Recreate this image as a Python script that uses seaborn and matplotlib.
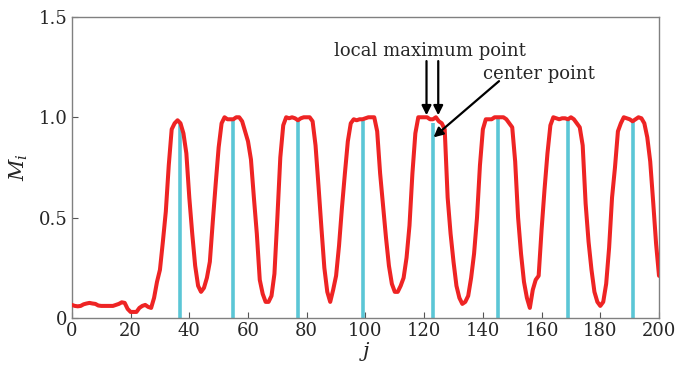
import numpy as np
import pandas as pd
import seaborn as sns
import matplotlib.pyplot as plt

# ---------------------------------------------------------------------------
# Data
# ---------------------------------------------------------------------------

j_index = list(range(0, 201))

m_values = [
    0.065, 0.06, 0.058, 0.06, 0.068, 0.072, 0.075, 0.072, 0.07, 0.062,   # 0-9
    0.06, 0.06, 0.06, 0.06, 0.06, 0.065, 0.07, 0.078, 0.075, 0.045,      # 10-19
    0.03, 0.03, 0.03, 0.05, 0.06, 0.065, 0.055, 0.05, 0.10, 0.18,        # 20-29
    0.24, 0.38, 0.53, 0.76, 0.94, 0.97, 0.985, 0.97, 0.92, 0.82,         # 30-39
    0.60, 0.42, 0.26, 0.16, 0.13, 0.15, 0.20, 0.28, 0.48, 0.67,          # 40-49
    0.85, 0.97, 1.0, 0.99, 0.99, 0.99, 1.0, 1.0, 0.98, 0.93,             # 50-59
    0.88, 0.79, 0.60, 0.42, 0.19, 0.12, 0.08, 0.08, 0.11, 0.22,          # 60-69
    0.50, 0.80, 0.96, 1.0, 0.995, 1.0, 0.995, 0.985, 0.995, 1.0,         # 70-79
    1.0, 1.0, 0.98, 0.86, 0.66, 0.45, 0.25, 0.13, 0.08, 0.14,            # 80-89
    0.21, 0.36, 0.55, 0.72, 0.88, 0.97, 0.99, 0.985, 0.99, 0.99,         # 90-99
    0.995, 1.0, 1.0, 1.0, 0.93, 0.72, 0.56, 0.40, 0.26, 0.17,           # 100-109
    0.13, 0.13, 0.16, 0.20, 0.30, 0.46, 0.72, 0.92, 1.0, 1.0,            # 110-119
    1.0, 1.0, 0.99, 0.99, 1.0, 0.98, 0.97, 0.94, 0.60, 0.42,             # 120-129
    0.28, 0.16, 0.10, 0.07, 0.08, 0.11, 0.20, 0.32, 0.50, 0.76,          # 130-139
    0.94, 0.99, 0.99, 0.99, 1.0, 1.0, 1.0, 1.0, 0.99, 0.97,              # 140-149
    0.95, 0.78, 0.50, 0.32, 0.18, 0.10, 0.05, 0.14, 0.19, 0.21,          # 150-159
    0.44, 0.64, 0.82, 0.96, 1.0, 0.995, 0.99, 0.995, 0.995, 0.99,        # 160-169
    1.0, 0.99, 0.97, 0.95, 0.86, 0.57, 0.38, 0.24, 0.13, 0.08,           # 170-179
    0.06, 0.08, 0.17, 0.35, 0.60, 0.75, 0.93, 0.97, 1.0, 0.995,          # 180-189
    0.99, 0.98, 0.99, 1.0, 0.995, 0.97, 0.90, 0.78, 0.58, 0.37,          # 190-199
    0.21,                                                                # 200
]

center_j = [37, 55, 77, 99, 123, 145, 169, 191]
center_m = [0.97, 0.99, 0.985, 0.99, 0.97, 1.0, 0.99, 0.98]

x_ticks = [0, 20, 40, 60, 80, 100, 120, 140, 160, 180, 200]
y_ticks = [0, 0.5, 1.0, 1.5]
y_tick_labels = ['0', '0.5', '1.0', '1.5']

# ---------------------------------------------------------------------------
# Plot
# ---------------------------------------------------------------------------

sns.set_style('white')
plt.rcParams['font.family'] = ['DejaVu Serif']
plt.rcParams['mathtext.fontset'] = 'dejavuserif'

df = pd.DataFrame({'j': j_index, 'M': m_values})

fig = plt.figure(figsize=(6.78, 3.68), dpi=100)
ax = fig.add_axes([0.106, 0.136, 0.866, 0.818])

ax.vlines(center_j, 0, center_m, color='#5bc6d6', linewidth=2.6, zorder=2)
sns.lineplot(data=df, x='j', y='M', color='#ee2424', linewidth=2.9, ax=ax, zorder=3)

ax.set_xlim(0, 200)
ax.set_ylim(0, 1.5)
ax.set_xticks(x_ticks)
ax.set_yticks(y_ticks)
ax.set_yticklabels(y_tick_labels)
ax.tick_params(bottom=True, left=True, direction='in', length=4, width=0.8,
               color='#555555', labelsize=13, pad=3)

for s in ax.spines.values():
    s.set_color('#808080')
    s.set_linewidth(1.0)

ax.set_xlabel('$j$', fontsize=15, labelpad=0)
ax.set_ylabel('$M_i$', fontsize=15, labelpad=6)

arrow = dict(arrowstyle='-|>', color='black', lw=1.6, mutation_scale=14,
             shrinkA=0, shrinkB=0)
ax.text(122, 1.33, 'local maximum point', fontsize=13, ha='center', va='center')
ax.annotate('', xy=(120.8, 1.01), xytext=(120.8, 1.28), arrowprops=arrow)
ax.annotate('', xy=(124.8, 1.01), xytext=(124.8, 1.28), arrowprops=arrow)
ax.text(159, 1.215, 'center point', fontsize=13, ha='center', va='center')
ax.annotate('', xy=(123.2, 0.90), xytext=(145.5, 1.18), arrowprops=arrow)

plt.savefig('out.png', dpi=100)
